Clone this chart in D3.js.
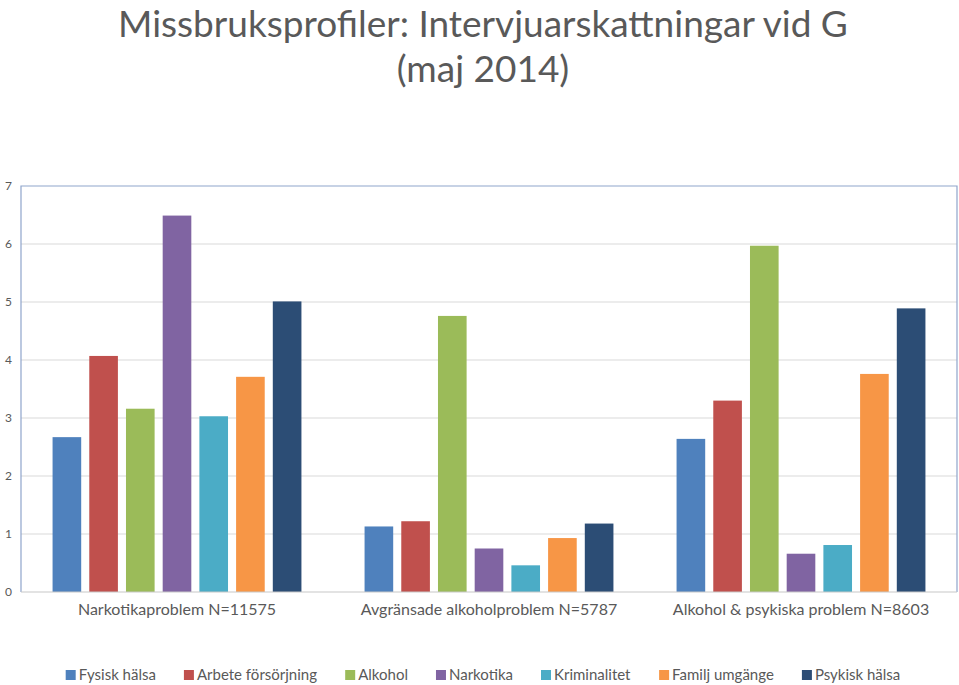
<!DOCTYPE html>
<html lang="sv">
<head>
    <meta charset="UTF-8">
    <title>Missbruksprofiler</title>
    <style>
        body { margin: 0; background: #fff; font-family: Lato, "Open Sans", sans-serif; }
        .grid line { stroke: #d9d9d9; stroke-width: 1; }
        .tick text { fill: #595959; }
    </style>
    <script src="https://d3js.org/d3.v7.min.js"></script>
</head>
<body>
    <svg width="959" height="685"></svg>
    <script>
        var groups = ["Narkotikaproblem N=11575", "Avgränsade alkoholproblem N=5787", "Alkohol & psykiska problem N=8603"];
        var seriesNames = ["Fysisk hälsa", "Arbete försörjning", "Alkohol", "Narkotika", "Kriminalitet", "Familj umgänge", "Psykisk hälsa"];
        var seriesColors = ["#4f81bd", "#c0504d", "#9bbb59", "#8064a2", "#4bacc6", "#f79646", "#2c4d75"];
        var fysisk = [2.67, 1.13, 2.64];
        var arbete = [4.07, 1.22, 3.30];
        var alkohol = [3.16, 4.76, 5.97];
        var narkotika = [6.49, 0.75, 0.66];
        var kriminalitet = [3.03, 0.46, 0.81];
        var familj = [3.71, 0.93, 3.76];
        var psykisk = [5.01, 1.18, 4.89];
        var yTicks = [0, 1, 2, 3, 4, 5, 6, 7];

        var seriesValues = [fysisk, arbete, alkohol, narkotika, kriminalitet, familj, psykisk];

        var plotLeft = 21, plotRight = 957, plotTop = 186, plotBottom = 592;
        var svg = d3.select("svg");

        // titel
        svg.append("text")
            .attr("x", 483).attr("y", 37)
            .attr("text-anchor", "middle")
            .style("font-size", "37px").style("fill", "#595959")
            .text("Missbruksprofiler: Intervjuarskattningar vid G");
        svg.append("text")
            .attr("x", 483).attr("y", 82)
            .attr("text-anchor", "middle")
            .style("font-size", "37px").style("fill", "#595959")
            .text("(maj 2014)");

        var y = d3.scaleLinear().domain([0, 7]).range([plotBottom, plotTop]);
        var x0 = d3.scaleBand().domain(groups).range([plotLeft, plotRight]).padding(0);
        var x1 = d3.scaleBand().domain(seriesNames).range([0, x0.bandwidth()])
            .paddingInner(0.22).paddingOuter(0.86);

        // rutnät
        svg.append("g").attr("class", "grid")
            .selectAll("line").data(yTicks.slice(1, -1)).join("line")
            .attr("x1", plotLeft).attr("x2", plotRight)
            .attr("y1", function(d) { return y(d); })
            .attr("y2", function(d) { return y(d); });

        // y-axel
        var yAxis = svg.append("g")
            .attr("transform", "translate(" + plotLeft + ",0)")
            .call(d3.axisLeft(y).tickValues(yTicks).tickSize(0).tickPadding(9).tickFormat(d3.format("d")));
        yAxis.select(".domain").remove();
        yAxis.selectAll("text").style("font-size", "12px").style("font-family", "Lato, sans-serif");

        // staplar
        var g = svg.append("g").selectAll("g").data(groups).join("g")
            .attr("transform", function(d) { return "translate(" + x0(d) + ",0)"; });
        g.selectAll("rect")
            .data(function(d, gi) {
                return seriesNames.map(function(s, si) { return { s: s, v: seriesValues[si][gi], c: seriesColors[si] }; });
            })
            .join("rect")
            .attr("x", function(d) { return x1(d.s); })
            .attr("width", x1.bandwidth())
            .attr("y", function(d) { return y(d.v); })
            .attr("height", function(d) { return plotBottom - y(d.v); })
            .attr("fill", function(d) { return d.c; });

        // ram
        svg.append("path")
            .attr("d", "M" + plotLeft + "," + plotBottom + "V" + plotTop + "H" + plotRight + "V" + plotBottom)
            .attr("fill", "none").attr("stroke", "#8fa5cc").attr("stroke-width", 1.2);
        svg.append("line")
            .attr("x1", plotLeft).attr("x2", plotRight).attr("y1", plotBottom).attr("y2", plotBottom)
            .attr("stroke", "#c8c8c8").attr("stroke-width", 1.2);

        // x-axel
        var xAxis = svg.append("g")
            .attr("transform", "translate(0," + plotBottom + ")")
            .call(d3.axisBottom(x0).tickSize(0).tickPadding(12));
        xAxis.select(".domain").remove();
        xAxis.selectAll("text").style("font-size", "16px").style("font-family", "Lato, sans-serif");

        // förklaring
        var legend = svg.append("g").attr("transform", "translate(0,675)");
        var items = legend.selectAll("g").data(seriesNames).join("g");
        items.append("rect").attr("width", 10).attr("height", 10).attr("y", -5)
            .attr("fill", function(d, i) { return seriesColors[i]; });
        items.append("text").attr("x", 13).attr("dy", "0.35em")
            .style("font-size", "15px").style("fill", "#595959")
            .text(function(d) { return d; });
        var widths = [];
        items.each(function() { widths.push(this.getBBox().width); });
        var gap = 28;
        var total = d3.sum(widths) + gap * (widths.length - 1);
        var pos = 483 - total / 2;
        items.attr("transform", function(d, i) {
            var t = "translate(" + pos + ",0)";
            pos += widths[i] + gap;
            return t;
        });
    </script>
</body>
</html>
